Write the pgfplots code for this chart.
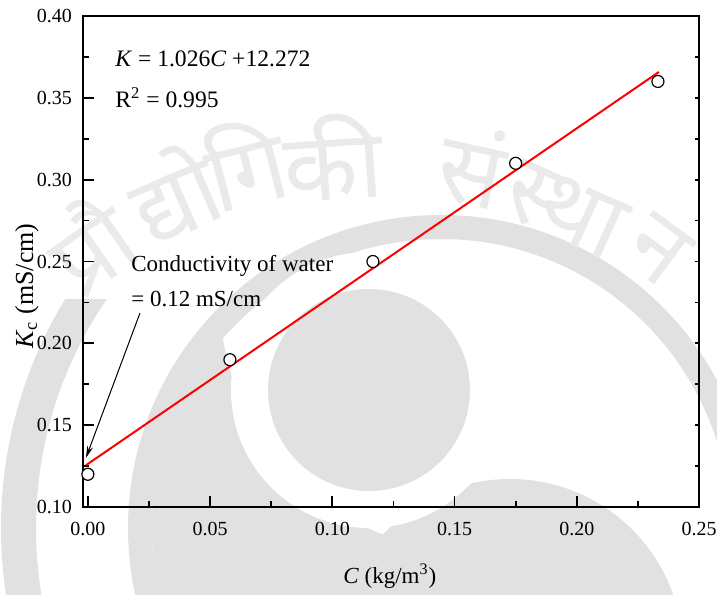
\documentclass[border=0pt]{standalone}
\usepackage{fontspec}
\setmainfont{Liberation Serif}
\newfontfamily\devfont[Script=Devanagari]{Noto Sans}
\usepackage{pgfplots}
\pgfplotsset{compat=1.18}
\usetikzlibrary{arrows.meta}
\definecolor{wm}{RGB}{225,225,225}
\definecolor{wmtext}{RGB}{234,234,234}
\begin{document}
\begin{tikzpicture}
\useasboundingbox (-41.5pt,-43.5pt) rectangle (317pt,253.5pt);
% watermark (background), coordinates in reference pixels
\begin{scope}[x=0.5pt,y=-0.5pt,shift={(-41.5pt,253.5pt)}]
\clip (0,0) rectangle (717,594);
\begin{scope}
\clip (0,300) rectangle (717,594);
\fill[wm,even odd rule] (441,528) circle (440) (441,528) circle (405);
\end{scope}
\fill[wm,even odd rule] (441,528) circle (313) (441,528) circle (289);
\begin{scope}
\clip (441,528) circle (289);
\clip (0,0) rectangle (470,594);
\fill[wm,even odd rule] (441,528) circle (289) (470,300) circle (250);
\end{scope}
\fill[wm] (510,652) circle (173);
\fill[white] (369,390) circle (138);
\fill[wm] (369,390) circle (101);
\begin{scope}[every node/.style={text=wmtext,font=\devfont\fontsize{48}{56}\selectfont,inner sep=0pt}]
\node[rotate=35] at (89,244) {प्रौ};
\node[rotate=23.5] at (173,193) {द्यो};
\node[rotate=14.5] at (245,163) {गि};
\node[rotate=4.2] at (333,157) {की};
\node[rotate=-12.3] at (473,166) {सं};
\node[rotate=-24.3] at (565,210) {स्था};
\node[rotate=-36.3] at (658,250) {न};
\end{scope}
\end{scope}
\begin{axis}[
  at={(0,0)}, anchor=south west,
  width=308pt, height=245.5pt, scale only axis,
  xmin=-0.002, xmax=0.25, ymin=0.10, ymax=0.40,
  xtick={0,0.05,0.1,0.15,0.2,0.25},
  ytick={0.1,0.15,0.2,0.25,0.3,0.35,0.4},
  minor x tick num=1, minor y tick num=1,
  xtick pos=bottom, ytick pos=left,
  tick align=inside,
  major tick length=5.5pt, minor tick length=3.2pt,
  every tick/.style={black,line width=0.9pt},
  axis line style={line width=1pt},
  /pgf/number format/.cd, fixed, fixed zerofill, precision=2, assume math mode=true, /pgfplots/.cd,
  ticklabel style={font=\fontsize{10}{12}\selectfont},
  xticklabel style={yshift=-4pt},
  yticklabel style={xshift=-2pt},
  xlabel={\textit{C} (kg/m\textsuperscript{3})},
  xlabel style={at={(axis description cs:0.498,-0.1405)},anchor=center,font=\fontsize{11.5}{14}\selectfont},
  ylabel={\textit{K}\textsubscript{c} (mS/cm)},
  ylabel style={at={(axis description cs:-0.091,0.45)},anchor=center,font=\fontsize{13}{15}\selectfont},
  clip=false,
]
\addplot[red, line width=1pt] coordinates {(-0.0008,0.1255) (0.2336,0.3658)};
\addplot[only marks, mark=*, mark size=3pt, mark options={fill=white,draw=black,line width=0.6pt}]
  coordinates {(0,0.12) (0.0581,0.19) (0.1166,0.25) (0.175,0.31) (0.2332,0.36)};
\node[anchor=west,inner sep=0pt,font=\fontsize{11.8}{14}\selectfont] at (axis cs:0.0111,0.374) {\textit{K} = 1.026\textit{C} +12.272};
\node[anchor=west,inner sep=0pt,font=\fontsize{11.8}{14}\selectfont] at (axis cs:0.0111,0.350) {R\textsuperscript{2} = 0.995};
\node[anchor=west,inner sep=0pt,font=\fontsize{11.5}{13}\selectfont] at (axis cs:0.0176,0.2473) {Conductivity of water};
\node[anchor=west,inner sep=0pt,font=\fontsize{11.5}{13}\selectfont] at (axis cs:0.0176,0.2271) {= 0.12 mS/cm};
\draw[-{Stealth[length=6pt,width=3pt]}, line width=0.5pt] (axis cs:0.0213,0.2185) -- (axis cs:-0.0008,0.130);
\end{axis}
\begin{axis}[
  at={(0,0)}, anchor=south west,
  width=308pt, height=245.5pt, scale only axis,
  xmin=-0.002, xmax=0.25, ymin=0.10, ymax=0.40,
  axis x line=none, axis y line*=right,
  ytick={0.125,0.15,0.175,0.2,0.225,0.25,0.275,0.3,0.325,0.35,0.375},
  yticklabels={},
  tick align=inside, major tick length=2.2pt,
  every tick/.style={black,line width=0.9pt},
  axis line style={line width=1pt},
]
\end{axis}
\end{tikzpicture}
\end{document}
